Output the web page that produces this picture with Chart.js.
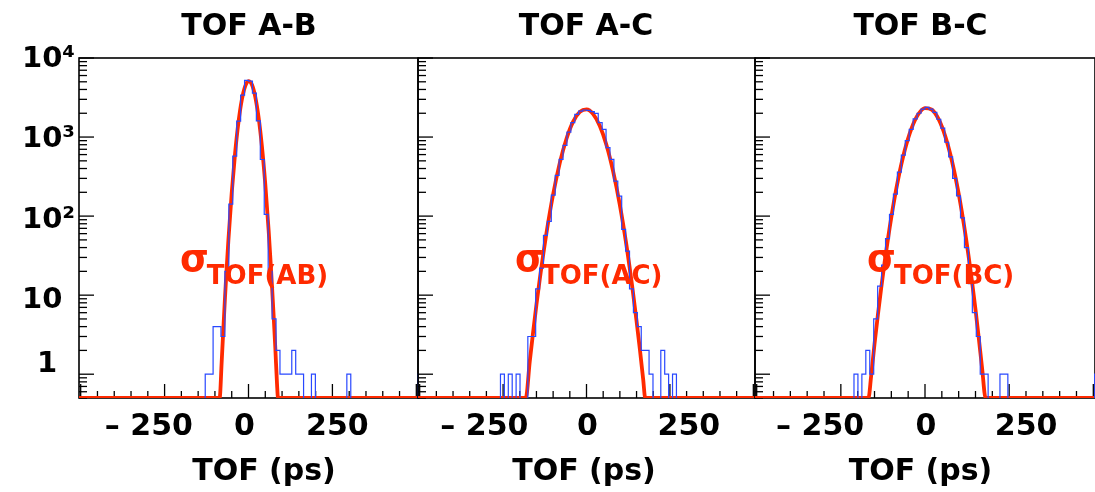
<!DOCTYPE html>
<html lang="en">
<head>
<meta charset="UTF-8">
<title>TOF resolution</title>
<script src="https://cdn.jsdelivr.net/npm/chart.js"></script>
<style>
    body { margin: 0; background: #ffffff; }
    #wrap { position: relative; width: 1095px; height: 492px; overflow: hidden; }
    #wrap canvas { position: absolute; top: 0; }
</style>
</head>
<body>
<div id="wrap">
    <canvas id="cAB" width="430" height="492" style="left:0px"></canvas>
    <canvas id="cAC" width="361" height="492" style="left:406px"></canvas>
    <canvas id="cBC" width="354" height="492" style="left:743px"></canvas>
</div>
<script>
// histogram bin width in ps, bin k covers [k*binWidth, (k+1)*binWidth)
const binWidth = 11.72;

const titles = ['TOF A-B', 'TOF A-C', 'TOF B-C'];
const sigmaSubs = ['TOF(AB)', 'TOF(AC)', 'TOF(BC)'];

// TOF A-B histogram (bin index / entries), empty bins left out
const abBins   = [-11, -10, -9, -8, -7, -6, -5, -4, -3, -2, -1, 0, 1, 2, 3, 4, 5, 6, 7, 8, 9, 10, 11, 12, 13, 16, 25, 43];
const abCounts = [1, 1, 4, 4, 3, 20, 142, 575, 1594, 3400, 5200, 5100, 3600, 1600, 520, 105, 20, 5, 2, 1, 1, 1, 2, 1, 1, 1, 1, 1];

// TOF A-C histogram
const acBins   = [-22, -20, -18, -15, -14, -13, -12, -11, -10, -9, -8, -7, -6, -5, -4, -3, -2, -1, 0, 1, 2, 3, 4, 5, 6, 7, 8, 9, 10, 11, 12, 13, 14, 15, 16, 19, 20, 22];
const acCounts = [1, 1, 1, 3, 3, 12, 22, 57, 86, 184, 327, 522, 785, 1157, 1518, 1937, 2133, 2200, 2180, 2100, 1995, 1518, 1252, 733, 522, 277, 179, 68, 36, 12, 6, 4, 2, 2, 1, 2, 1, 1];

// TOF B-C histogram
const bcBins   = [-18, -16, -15, -14, -13, -12, -11, -10, -9, -8, -7, -6, -5, -4, -3, -2, -1, 0, 1, 2, 3, 4, 5, 6, 7, 8, 9, 10, 11, 12, 13, 14, 15, 19, 20, 43];
const bcCounts = [1, 1, 2, 1, 5, 13, 24, 52, 105, 190, 360, 590, 900, 1250, 1700, 2000, 2250, 2380, 2250, 2050, 1680, 1300, 860, 560, 300, 180, 95, 40, 14, 6, 3, 1, 1, 1, 1, 1];

// gaussian fits (ps / entries)
const abFitX = [-505, -86, -80, -75, -70, -65, -60, -50, -40, -30, -20, -10, 0, 10, 20, 30, 40, 50, 60, 65, 70, 75, 80, 85, 88, 505];
const abFitY = [0.5, 0.5, 1.4, 3.7, 9.4, 22, 49, 197, 623, 1530, 2940, 4380, 5090, 4610, 3250, 1780, 760, 254, 66, 30, 13, 5.4, 2.1, 0.75, 0.5, 0.5];

const acFitX = [-505, -182, -170, -160, -150, -140, -120, -100, -80, -60, -40, -20, 0, 20, 40, 60, 80, 100, 120, 140, 150, 160, 170, 176, 505];
const acFitY = [0.5, 0.5, 1.46, 3.4, 7.6, 16, 61, 189, 471, 952, 1563, 2076, 2235, 1950, 1378, 789, 365, 138, 42, 10.3, 4.7, 2.06, 0.85, 0.5, 0.5];

const bcFitX = [-505, -168, -160, -150, -140, -130, -120, -100, -80, -60, -40, -20, 0, 20, 40, 60, 80, 100, 120, 140, 150, 160, 170, 180, 505];
const bcFitY = [0.5, 0.5, 0.95, 2.4, 5.6, 12.4, 26, 97, 289, 684, 1290, 1941, 2326, 2223, 1693, 1028, 498, 192, 59, 14.5, 6.6, 2.8, 1.15, 0.5, 0.5];

// axis labels
const xTickValues = [-250, 0, 250];
const xTickLabels = ['– 250', '0', '250'];
const yTickValues = [1, 10, 100, 1000, 10000];
const yTickLabels = ['1', '10', '10²', '10³', '10⁴'];

const RED = '#ff2a00';
const BLUE = '#2848ff';

// layout of the three pads
const panels = [
    { id: 'cAB', pad: { left: 79, right: 12 }, title: titles[0], sub: sigmaSubs[0],
      bins: abBins, counts: abCounts, fitX: abFitX, fitY: abFitY,
      yLabels: true, titleDx: 0.5, axisDx: 15.5, tickDx: [-3, -4, 5], sigma: [-204, 20] },
    { id: 'cAC', pad: { left: 12, right: 12 }, title: titles[1], sub: sigmaSubs[1],
      bins: acBins, counts: acCounts, fitX: acFitX, fitY: acFitY,
      yLabels: false, titleDx: -0.5, axisDx: -2.5, tickDx: [-6, 1, 19], sigma: [-214, 20] },
    { id: 'cBC', pad: { left: 12, right: 2 }, title: titles[2], sub: sigmaSubs[2],
      bins: bcBins, counts: bcCounts, fitX: bcFitX, fitY: bcFitY,
      yLabels: false, titleDx: -4.5, axisDx: -4.5, tickDx: [-8, 1, 17], sigma: [-172, 20] }
];

// step points for a histogram, empty bins pushed below the axis
function histPoints(bins, counts) {
    const lookup = {};
    bins.forEach((b, i) => { lookup[b] = counts[i]; });
    const pts = [];
    for (let k = -45; k <= 45; k++) {
        const c = lookup[k] || 0;
        pts.push({ x: k * binWidth, y: c > 0 ? c : 0.1 });
    }
    pts.push({ x: 46 * binWidth, y: 0.1 });
    return pts;
}

function line(ctx, x1, y1, x2, y2) {
    ctx.beginPath();
    ctx.moveTo(x1, y1);
    ctx.lineTo(x2, y2);
    ctx.stroke();
}

// ROOT style frame, inner ticks and labels
function rootFrame(p) {
    return {
        id: 'rootFrame',
        beforeDatasetsDraw(chart) {
            const { ctx, chartArea: a, scales: { x, y } } = chart;
            ctx.save();
            ctx.strokeStyle = '#000';
            ctx.lineWidth = 1.3;
            for (let v = -500; v <= 500; v += 50) {
                const px = x.getPixelForValue(v);
                const len = (v % 250 === 0) ? 14 : 7;
                line(ctx, px, a.bottom, px, a.bottom - len);
            }
            for (let d = -1; d <= 4; d++) {
                for (let m = 1; m <= 9; m++) {
                    const v = m * Math.pow(10, d);
                    if (v < 0.5 || v > 10000) continue;
                    const py = y.getPixelForValue(v);
                    line(ctx, a.left, py, a.left + (m === 1 ? 15 : 8), py);
                }
            }
            ctx.lineWidth = 1.6;
            ctx.strokeRect(a.left, a.top, a.right - a.left, a.bottom - a.top);
            ctx.restore();
        },
        afterDatasetsDraw(chart) {
            const { ctx, chartArea: a, scales: { x, y } } = chart;
            const mid = (a.left + a.right) / 2;
            ctx.save();
            ctx.fillStyle = '#000';
            ctx.textBaseline = 'alphabetic';

            // pad title
            ctx.font = 'bold 30px "DejaVu Sans"';
            ctx.textAlign = 'center';
            ctx.fillText(p.title, mid + p.titleDx, 35);

            // axis title
            ctx.fillText('TOF (ps)', mid + p.axisDx, 480);

            // x tick labels, number part centred on the tick
            xTickValues.forEach((v, i) => {
                const lab = xTickLabels[i];
                const num = lab.replace(/^–\s*/, '');
                const cx = x.getPixelForValue(v) + p.tickDx[i];
                ctx.textAlign = 'right';
                ctx.fillText(lab, cx + ctx.measureText(num).width / 2, a.bottom + 37);
            });

            // y tick labels on the first pad only
            if (p.yLabels) {
                ctx.font = 'bold 29px "DejaVu Sans"';
                ctx.textAlign = 'left';
                const dy = [-2, 13, 12, 10, 9];
                yTickValues.forEach((v, i) => {
                    const lx = yTickLabels[i] === '1' ? 37 : 22;
                    ctx.fillText(yTickLabels[i], lx, y.getPixelForValue(v) + dy[i]);
                });
            }

            // sigma label
            const sx = x.getPixelForValue(p.sigma[0]);
            const sy = y.getPixelForValue(p.sigma[1]);
            ctx.fillStyle = RED;
            ctx.textAlign = 'left';
            ctx.font = 'bold 37px "DejaVu Sans"';
            ctx.fillText('σ', sx, sy);
            const w = ctx.measureText('σ').width;
            ctx.font = 'bold 26px "DejaVu Sans"';
            ctx.fillText(p.sub, sx + w - 2, sy + 13);
            ctx.restore();
        }
    };
}

panels.forEach(p => {
    const ctx = document.getElementById(p.id).getContext('2d');
    new Chart(ctx, {
        type: 'line',
        data: {
            datasets: [{
                label: 'data',
                data: histPoints(p.bins, p.counts),
                stepped: 'before',
                borderColor: BLUE,
                borderWidth: 1.2,
                pointRadius: 0,
                fill: false,
                clip: 0
            }, {
                label: 'fit',
                data: p.fitX.map((v, i) => ({ x: v, y: p.fitY[i] })),
                borderColor: RED,
                borderWidth: 3.8,
                pointRadius: 0,
                cubicInterpolationMode: 'monotone',
                fill: false,
                clip: 0
            }]
        },
        options: {
            responsive: false,
            animation: false,
            events: [],
            layout: { padding: { left: p.pad.left, right: p.pad.right, top: 58, bottom: 94 } },
            scales: {
                x: { type: 'linear', min: -505, max: 505, display: false },
                y: { type: 'logarithmic', min: 0.5, max: 10000, display: false }
            },
            plugins: {
                legend: { display: false },
                tooltip: { enabled: false }
            }
        },
        plugins: [rootFrame(p)]
    });
});
</script>
</body>
</html>
